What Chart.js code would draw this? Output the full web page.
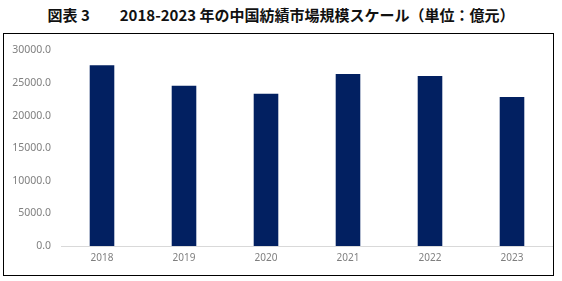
<!DOCTYPE html>
<html>
<head>
<meta charset="utf-8">
<script src="https://cdn.jsdelivr.net/npm/chart.js@4/dist/chart.umd.min.js"></script>
<style>
  html, body { margin: 0; padding: 0; background: #fff; }
  body { width: 562px; height: 281px; position: relative; overflow: hidden; }
  #title {
    position: absolute; left: 0; top: 4px; width: 562px; text-align: center;
    font: bold 15px "Noto Sans CJK JP", sans-serif; color: #111; white-space: pre;
  }
  #frame {
    position: absolute; left: 3px; top: 33px; width: 551px; height: 243px;
    border: 1px solid #000; box-sizing: border-box;
  }
  #frame canvas { display: block; }
</style>
</head>
<body>
<div id="title">図表 3　　2018-2023 年の中国紡績市場規模スケール（単位：億元）</div>
<div id="frame"><canvas id="myChart" width="549" height="241"></canvas></div>
<script>
// chart data
const years = ['2018', '2019', '2020', '2021', '2022', '2023'];
const marketSize = [27700, 24550, 23350, 26350, 26050, 22850];
const yTicks = [0, 5000, 10000, 15000, 20000, 25000, 30000];

document.addEventListener('DOMContentLoaded', function() {
    const ctx = document.getElementById('myChart').getContext('2d');
    new Chart(ctx, {
        type: 'bar',
        data: {
            labels: years,
            datasets: [{
                data: marketSize,
                backgroundColor: '#022061',
                borderWidth: 0,
                categoryPercentage: 1,
                barPercentage: 0.3
            }]
        },
        options: {
            responsive: false,
            animation: false,
            layout: { padding: { left: 3, right: 0, top: 7, bottom: 5 } },
            plugins: { legend: { display: false }, tooltip: { enabled: false } },
            scales: {
                x: {
                    grid: { display: false, drawTicks: false },
                    border: { display: true, color: '#d9d9d9', width: 1 },
                    ticks: { color: '#7f7f7f', font: { family: 'Noto Sans', size: 10 }, padding: 6 }
                },
                y: {
                    min: 0,
                    max: 30000,
                    afterBuildTicks: function(scale) {
                        scale.ticks = yTicks.map(v => ({ value: v }));
                    },
                    afterFit: function(scale) { scale.width = 54; },
                    grid: { display: false, drawTicks: false },
                    border: { display: false },
                    ticks: {
                        color: '#7f7f7f',
                        font: { family: 'Noto Sans', size: 10.5 },
                        padding: 10,
                        callback: v => Number(v).toFixed(1)
                    }
                }
            }
        }
    });
});
</script>
</body>
</html>
